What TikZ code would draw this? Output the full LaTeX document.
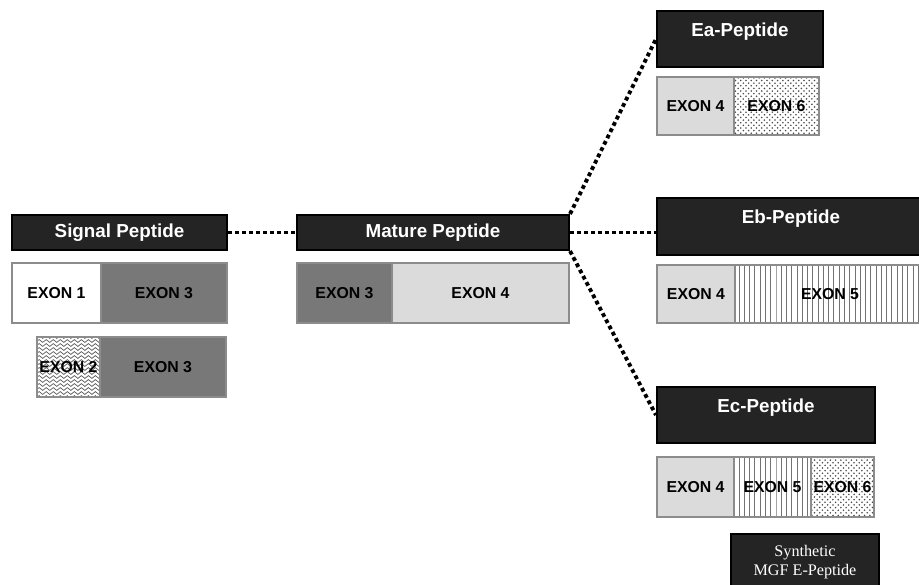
\documentclass[tikz,border=0pt]{standalone}
\usepackage{fontspec}
\setmainfont{Liberation Serif}
\setsansfont{Liberation Sans}
\usetikzlibrary{patterns}
\usetikzlibrary{decorations.pathmorphing}
\definecolor{barfill}{gray}{0.14}
\definecolor{exedge}{gray}{0.55}
\definecolor{exthree}{gray}{0.47}
\definecolor{exfour}{gray}{0.86}
\tikzset{pepbar/.style = {rectangle, draw=black, fill=barfill, text=white, line width=1.2pt,
                          inner sep=0, font=\sffamily\bfseries\fontsize{10.7}{12}\selectfont}}
\tikzset{pepname/.style = {anchor=center, yshift=-0.44cm, text=white,
                           font=\sffamily\bfseries\fontsize{10.7}{12}\selectfont}}
\tikzset{exbox/.style = {rectangle, draw=exedge, line width=1.2pt, inner sep=0,
                         minimum height=1.2cm, font=\sffamily\bfseries\fontsize{9}{11}\selectfont}}
\tikzset{wavy/.style = {draw=black!65, line width=0.4pt, decorate,
                        decoration={snake, amplitude=0.8pt, segment length=4pt}}}
\tikzset{dotline/.style = {line width=2.2pt, dash pattern=on 2.2pt off 1.8pt}}

\begin{document}
\begin{tikzpicture}
    \useasboundingbox (0, 0) rectangle (18.38, -11.68);

    % signal peptide
    \node [pepbar, minimum width=4.30cm, minimum height=0.70cm] (sig) at (2.39, -4.65) {Signal Peptide};
    \node [exbox, fill=white, minimum width=1.78cm] (s1) at (1.13, -5.86) {EXON 1};
    \node [exbox, fill=exthree, minimum width=2.52cm] (s3) at (3.28, -5.86) {EXON 3};
    \node [exbox, fill=white, minimum width=1.26cm,
           path picture={\foreach \k in {0,...,15}
             \draw [wavy] ([yshift=\k*0.08cm]path picture bounding box.south west) -- ++(1.4, 0);}]
           (s2) at (1.37, -7.34) {EXON 2};
    \node [exbox, fill=exthree, minimum width=2.52cm] (s4) at (3.26, -7.34) {EXON 3};

    % mature peptide
    \node [pepbar, minimum width=5.44cm, minimum height=0.70cm] (mat) at (8.66, -4.65) {Mature Peptide};
    \node [exbox, fill=exthree, minimum width=1.90cm] (m3) at (6.89, -5.86) {EXON 3};
    \node [exbox, fill=exfour, minimum width=3.54cm] (m4) at (9.61, -5.86) {EXON 4};

    % E-peptides
    \node [pepbar, minimum width=3.32cm, minimum height=1.12cm,
           label={[pepname]north:Ea-Peptide}] (ea) at (14.80, -0.78) {};
    \node [exbox, fill=exfour, minimum width=1.54cm, minimum height=1.16cm] (a4) at (13.91, -2.12) {EXON 4};
    \node [exbox, pattern=crosshatch dots, pattern color=black!70, minimum width=1.70cm,
           minimum height=1.16cm] (a6) at (15.53, -2.12) {EXON 6};

    \node [pepbar, minimum width=5.36cm, minimum height=1.14cm,
           label={[pepname]north:Eb-Peptide}] (eb) at (15.82, -4.53) {};
    \node [exbox, fill=exfour, minimum width=1.56cm, minimum height=1.16cm] (b4) at (13.92, -5.88) {EXON 4};
    \node [exbox, pattern=vertical lines, pattern color=black!55, minimum width=3.80cm,
           minimum height=1.16cm] (b5) at (16.60, -5.88) {EXON 5};

    \node [pepbar, minimum width=4.36cm, minimum height=1.12cm,
           label={[pepname]north:Ec-Peptide}] (ec) at (15.32, -8.30) {};
    \node [exbox, fill=exfour, minimum width=1.54cm] (c4) at (13.91, -9.74) {EXON 4};
    \node [exbox, pattern=vertical lines, pattern color=black!55, minimum width=1.54cm] (c5) at (15.45, -9.74) {EXON 5};
    \node [exbox, pattern=crosshatch dots, pattern color=black!70, minimum width=1.26cm] (c6) at (16.85, -9.74) {EXON 6};

    \node [pepbar, minimum width=2.96cm, minimum height=1.12cm, align=center,
           font=\rmfamily\fontsize{9.2}{10.8}\selectfont] (syn) at (16.10, -11.24) {Synthetic\\MGF E-Peptide};

    \draw [dotline] (sig.east) -- (mat.west);
    \draw [dotline] (mat.east) -- (mat.east -| eb.west);
    \draw [dotline] (mat.north east) -- (ea.west);
    \draw [dotline] (mat.south east) -- (ec.west);
  \end{tikzpicture}
\end{document}
